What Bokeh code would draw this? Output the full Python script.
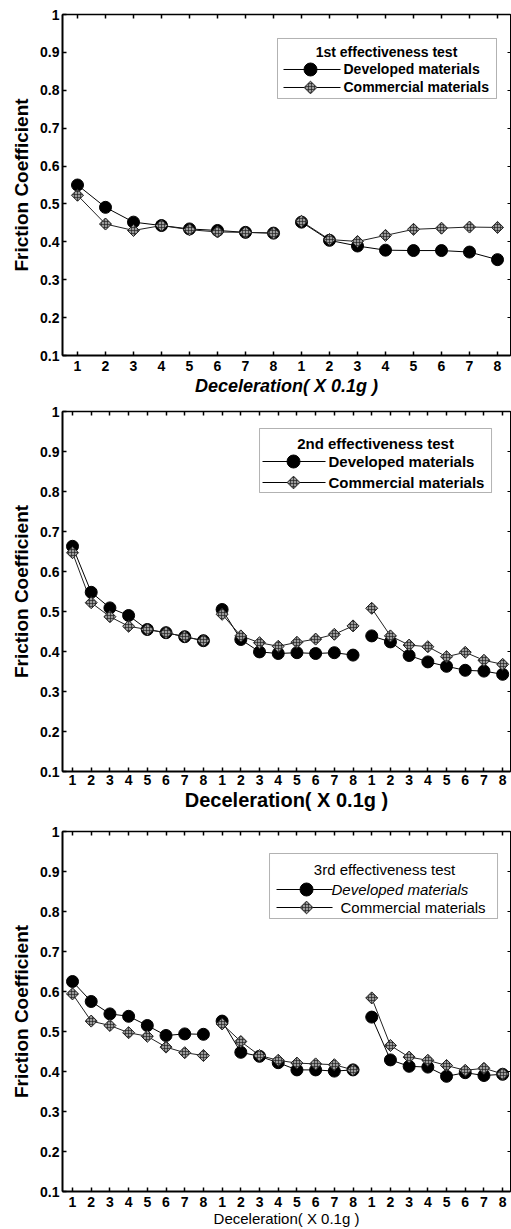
import numpy as np
from bokeh.plotting import figure
from bokeh.models import (Range1d, FixedTicker, CustomJSTickFormatter, LinearAxis,
                          Label, BoxAnnotation)
from bokeh.layouts import column
from bokeh.embed import file_html
from bokeh.resources import INLINE

# ---------------- data ----------------
step_labels = ["1", "2", "3", "4", "5", "6", "7", "8"]
y_ticks = [0.1, 0.2, 0.3, 0.4, 0.5, 0.6, 0.7, 0.8, 0.9, 1.0]
y_tick_labels = ["0.1", "0.2", "0.3", "0.4", "0.5", "0.6", "0.7", "0.8", "0.9", "1"]
series_names = ["Developed materials", "Commercial materials"]
test_titles = ["1st effectiveness test", "2nd effectiveness test", "3rd effectiveness test"]
x_title = "Deceleration( X 0.1g )"
y_title = "Friction Coefficient"

dev_1 = [0.550, 0.491, 0.452, 0.443, 0.434, 0.430, 0.425, 0.423,
         0.452, 0.404, 0.389, 0.378, 0.377, 0.377, 0.373, 0.353]
com_1 = [0.523, 0.447, 0.430, 0.443, 0.432, 0.426, 0.425, 0.423,
         0.454, 0.406, 0.401, 0.417, 0.433, 0.436, 0.439, 0.438]

dev_2 = [0.663, 0.548, 0.509, 0.490, 0.455, 0.447, 0.437, 0.427,
         0.505, 0.430, 0.399, 0.395, 0.397, 0.395, 0.397, 0.391,
         0.439, 0.424, 0.390, 0.374, 0.363, 0.353, 0.351, 0.343]
com_2 = [0.647, 0.522, 0.487, 0.463, 0.455, 0.447, 0.437, 0.427,
         0.493, 0.439, 0.422, 0.413, 0.423, 0.431, 0.443, 0.464,
         0.508, 0.439, 0.416, 0.412, 0.387, 0.398, 0.378, 0.368]

dev_3 = [0.625, 0.575, 0.544, 0.538, 0.515, 0.490, 0.494, 0.493,
         0.526, 0.448, 0.438, 0.422, 0.404, 0.404, 0.401, 0.404,
         0.536, 0.429, 0.413, 0.411, 0.388, 0.397, 0.390, 0.393]
com_3 = [0.594, 0.526, 0.515, 0.497, 0.488, 0.461, 0.447, 0.440,
         0.519, 0.475, 0.440, 0.428, 0.421, 0.419, 0.417, 0.404,
         0.584, 0.465, 0.436, 0.428, 0.415, 0.403, 0.408, 0.394]

# ---------------- layout / style ----------------
FONT = "Liberation Sans"
WIDTH = 511
BORDER_LEFT = 62
BORDER_RIGHT = 1

panels = [
    dict(dev=dev_1, com=com_1, title=test_titles[0], height=400, btop=14, bbot=45,
         x_start=0.4643, x_end=16.464,
         ref=dict(x1=77, dx=28.0, ytop=14, dy=378.9),
         box=(277, 496, 38, 98), title_xy=(386, 52), title_style="bold", leg_size="14px",
         rows=(69, 87), line_x=(283, 340), mark_x=310, text_x=(343, 343),
         label_styles=("bold", "bold"),
         xl_size="18px", xl_style="bold italic", tick_standoff=5, title_standoff=2),
    dict(dev=dev_2, com=com_2, title=test_titles[1], height=415, btop=11, bbot=44,
         x_start=0.465, x_end=24.42,
         ref=dict(x1=72, dx=18.7, ytop=411, dy=400.0),
         box=(259, 491, 428, 492), title_xy=(375, 443), title_style="bold", leg_size="15px",
         rows=(461, 482), line_x=(262, 325), mark_x=293, text_x=(328, 328),
         label_styles=("bold", "bold"),
         xl_size="20px", xl_style="bold", tick_standoff=3, title_standoff=1),
    dict(dev=dev_3, com=com_3, title=test_titles[2], height=414, btop=16, bbot=38,
         x_start=0.465, x_end=24.42,
         ref=dict(x1=72, dx=18.7, ytop=831, dy=400.0),
         box=(269, 497, 853, 918), title_xy=(384, 869), title_style="normal", leg_size="15px",
         rows=(889, 907), line_x=(276, 332), mark_x=306, text_x=(331, 340),
         label_styles=("italic", "normal"),
         xl_size="15px", xl_style="normal", tick_standoff=5, title_standoff=0),
]

blank_fmt = CustomJSTickFormatter(code="return '';")


def make_panel(cfg):
    dev, com = cfg["dev"], cfg["com"]
    n = len(dev)
    xs = list(range(1, n + 1))
    p = figure(width=WIDTH, height=cfg["height"], output_backend="svg", toolbar_location=None,
               x_range=Range1d(cfg["x_start"], cfg["x_end"]), y_range=Range1d(0.1, 1.0),
               min_border_left=BORDER_LEFT, min_border_right=BORDER_RIGHT,
               min_border_top=cfg["btop"], min_border_bottom=cfg["bbot"])
    p.xgrid.visible = False
    p.ygrid.visible = False
    p.outline_line_color = "black"
    p.outline_line_width = 1
    p.background_fill_color = "white"
    p.border_fill_color = "white"

    # bottom axis
    xa = p.xaxis[0]
    xa.ticker = FixedTicker(ticks=xs)
    xa.major_label_overrides = {i: step_labels[(i - 1) % 8] for i in xs}
    xa.major_tick_in = 4
    xa.major_tick_out = 0
    xa.minor_tick_in = 0
    xa.minor_tick_out = 0
    xa.axis_line_width = 2
    xa.axis_line_color = "black"
    xa.major_tick_line_width = 1.5
    xa.major_label_text_font = FONT
    xa.major_label_text_font_style = "bold"
    xa.major_label_text_font_size = "14px"
    xa.major_label_text_color = "black"
    xa.major_label_standoff = cfg["tick_standoff"]
    xa.axis_label = x_title
    xa.axis_label_text_font = FONT
    xa.axis_label_text_font_style = cfg["xl_style"]
    xa.axis_label_text_font_size = cfg["xl_size"]
    xa.axis_label_text_color = "black"
    xa.axis_label_standoff = cfg["title_standoff"]

    # left axis
    ya = p.yaxis[0]
    ya.ticker = FixedTicker(ticks=y_ticks)
    ya.major_label_overrides = dict(zip(y_ticks, y_tick_labels))
    ya.major_tick_in = 4
    ya.major_tick_out = 0
    ya.minor_tick_in = 0
    ya.minor_tick_out = 0
    ya.axis_line_width = 2
    ya.axis_line_color = "black"
    ya.major_tick_line_width = 1.5
    ya.major_label_text_font = FONT
    ya.major_label_text_font_style = "bold"
    ya.major_label_text_font_size = "14px"
    ya.major_label_text_color = "black"
    ya.major_label_standoff = 3
    ya.axis_label = y_title
    ya.axis_label_text_font = FONT
    ya.axis_label_text_font_style = "bold"
    ya.axis_label_text_font_size = "19px"
    ya.axis_label_text_color = "black"
    ya.axis_label_standoff = 5

    # top and right frame ticks
    top = LinearAxis(ticker=FixedTicker(ticks=xs), formatter=blank_fmt,
                     major_label_standoff=0, major_tick_in=4, major_tick_out=0,
                     minor_tick_in=0, minor_tick_out=0, axis_line_color="black",
                     axis_line_width=1.5, major_tick_line_width=1.5)
    p.add_layout(top, "above")
    right = LinearAxis(ticker=FixedTicker(ticks=y_ticks), formatter=blank_fmt,
                       major_label_standoff=0, major_tick_in=3, major_tick_out=0,
                       minor_tick_in=0, minor_tick_out=0, axis_line_color="black",
                       axis_line_width=1, major_tick_line_width=1)
    p.add_layout(right, "right")

    # data
    for g in range(n // 8):
        sl = slice(g * 8, g * 8 + 8)
        p.line(xs[sl], dev[sl], line_color="black", line_width=1)
        p.line(xs[sl], com[sl], line_color="#222222", line_width=1)
    p.scatter(xs, dev, marker="circle", size=12, fill_color="black", line_color="black")
    p.scatter(xs, com, marker="square", angle=np.pi / 4, size=8.5, fill_color="#9a9a9a",
              line_color="#222222", line_width=1, hatch_pattern="+", hatch_color="#222222",
              hatch_scale=3, hatch_weight=0.7)

    # legend
    ref = cfg["ref"]

    def px2x(px):
        return 1 + (px - ref["x1"]) / ref["dx"]

    def px2y(py):
        return 1.0 - (py - ref["ytop"]) / ref["dy"]

    l, r, t, b = cfg["box"]
    p.add_layout(BoxAnnotation(left=px2x(l), right=px2x(r), top=px2y(t), bottom=px2y(b),
                               fill_color="white", fill_alpha=1.0, line_color="black",
                               line_width=1, level="underlay"))
    tx, ty = cfg["title_xy"]
    p.add_layout(Label(x=px2x(tx), y=px2y(ty), text=cfg["title"], text_font=FONT,
                       text_font_size=cfg["leg_size"], text_font_style=cfg["title_style"],
                       text_align="center", text_baseline="middle", text_color="black"))
    la, lb = cfg["line_x"]
    for k, ry in enumerate(cfg["rows"]):
        yy = px2y(ry)
        p.segment(x0=[px2x(la)], y0=[yy], x1=[px2x(lb)], y1=[yy],
                  line_color="black", line_width=1)
        if k == 0:
            p.scatter([px2x(cfg["mark_x"])], [yy], marker="circle", size=13,
                      fill_color="black", line_color="black")
        else:
            p.scatter([px2x(cfg["mark_x"])], [yy], marker="square", angle=np.pi / 4, size=9,
                      fill_color="#9a9a9a", line_color="#222222", hatch_pattern="+",
                      hatch_color="#222222", hatch_scale=3, hatch_weight=0.7)
        p.add_layout(Label(x=px2x(cfg["text_x"][k]), y=yy, text=series_names[k], text_font=FONT,
                           text_font_size=cfg["leg_size"], text_font_style=cfg["label_styles"][k],
                           text_align="left", text_baseline="middle", text_color="black"))
    return p


figs = [make_panel(c) for c in panels]
page = column(*figs, spacing=0)
open("out.html", "w").write(file_html(page, INLINE))
